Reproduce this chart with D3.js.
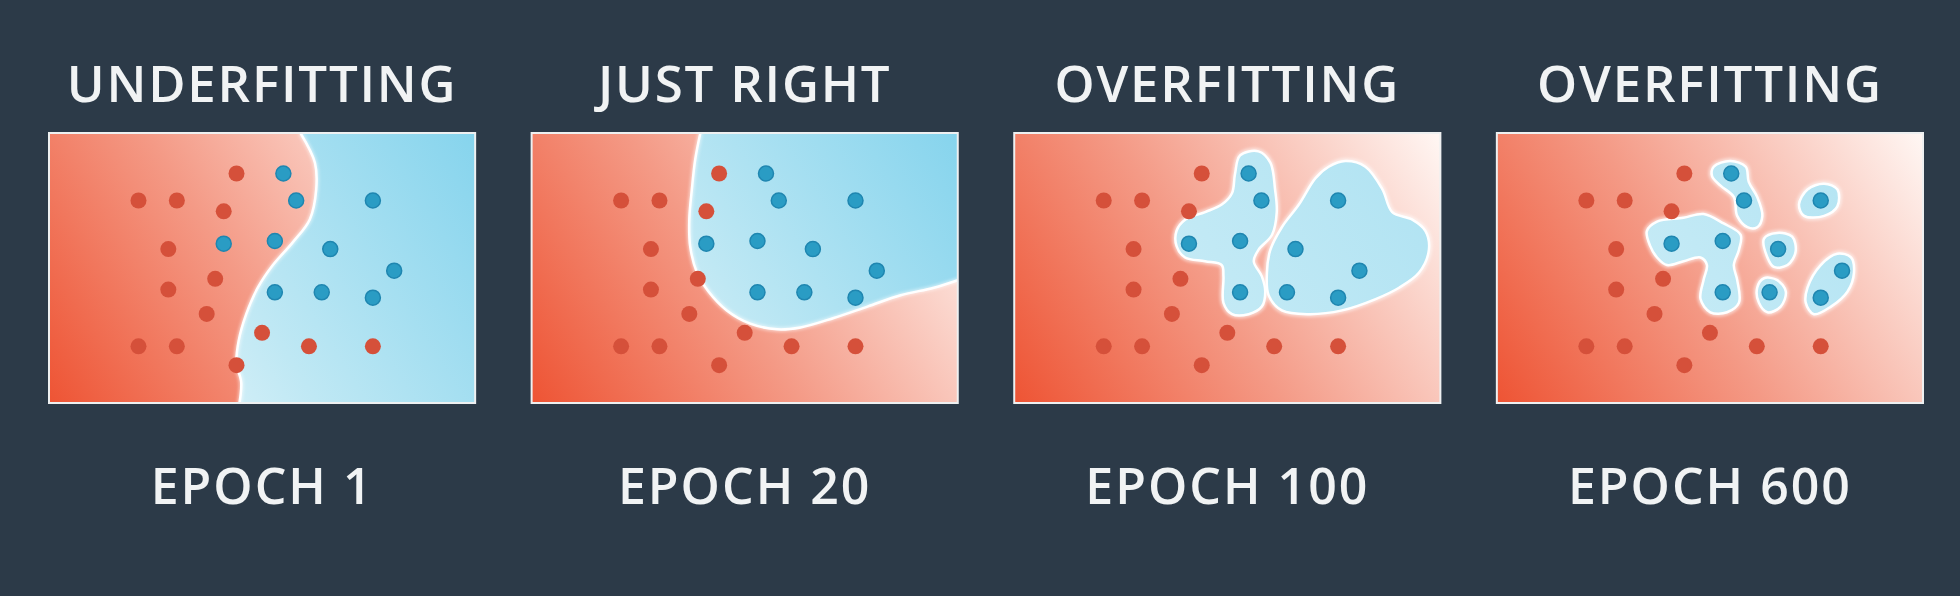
<!DOCTYPE html>
<html>
<head>
<meta charset="utf-8">
<script src="https://cdn.jsdelivr.net/npm/d3@7"></script>
<style>
  html, body { margin: 0; background: #2c3a48; }
  svg { display: block; }
</style>
</head>
<body>
<svg id="chart" width="1960" height="596"></svg>
<script>
// the four stages
const titles = ["UNDERFITTING", "JUST RIGHT", "OVERFITTING", "OVERFITTING"];
const epochs = ["EPOCH 1", "EPOCH 20", "EPOCH 100", "EPOCH 600"];

// training points, same in every panel (x, y in 0..100)
const redPoints = [
  [44, 85], [21, 75], [30, 75], [41, 71], [28, 57], [39, 46], [28, 42],
  [37, 33], [50, 26], [21, 21], [30, 21], [61, 21], [76, 21], [44, 14]
];
const bluePoints = [
  [55, 85], [58, 75], [76, 75], [41, 59], [53, 60], [66, 57],
  [81, 49], [53, 41], [64, 41], [76, 39]
];

// epoch 1: decision boundary, blue class on the right
const boundaryEpoch1 = [
  [59, 100], [62.4, 89], [62.7, 79], [61.2, 68], [57.2, 59.5], [52.5, 51],
  [49, 42.7], [46.3, 33], [44.5, 23], [44, 14.7], [45.1, 7.7], [44.7, 0]
];
// epoch 20: blue class top right
const boundaryEpoch20 = [
  [39.6, 100], [38.4, 90.3], [37.6, 79.1], [37, 68], [37.2, 58.1], [38.8, 48.3],
  [41.5, 41.3], [45.8, 34.3], [51.3, 29.4], [57.6, 27.3], [63.1, 28], [70.9, 31.5],
  [78.8, 35.7], [86.6, 39.9], [94.4, 42.7], [100, 45.5]
];
// epoch 100: two blue islands
const blobsEpoch100 = [
  [[53, 91.7], [57.3, 93.2], [60.1, 89], [61.2, 79.1], [61.6, 70.7], [60.5, 62.3],
   [57.3, 56.7], [56.2, 52.5], [58.1, 46.9], [58.9, 41.3], [58.1, 35.7], [55, 32.9],
   [51.1, 32.9], [49.1, 37.1], [49.1, 46.9], [48.7, 51.1], [44.8, 52.5], [40.1, 53.9],
   [38.1, 58.1], [38.1, 63.8], [40.1, 67.9], [44.8, 70.7], [48.7, 73.5], [51.1, 77.7],
   [51.8, 84.7]],
  [[77.7, 89.6], [82.4, 87.5], [86.4, 79.1], [88.7, 70.7], [93.4, 67.9], [96.5, 63.7],
   [97.3, 56.7], [95, 48.3], [90.3, 42.7], [84.8, 38.5], [76.9, 34.3], [69.1, 32.9],
   [62.8, 34.3], [59.7, 39.9], [59.3, 48.3], [60.1, 56.7], [62.8, 65.1], [66.8, 73.5],
   [70.7, 83.3], [73.8, 87.5]]
];
// epoch 600: many small islands
const blobsEpoch600 = [
  [[50.9, 87.5], [54.8, 89.6], [58.4, 87.5], [59.1, 81.9], [61.1, 76.3], [62.3, 69.3],
   [61.1, 65.1], [58.8, 65.1], [56.4, 69.3], [55.6, 76.3], [52.5, 80.5], [50.5, 84]],
  [[70.9, 73.5], [72.9, 79.1], [76.8, 81.2], [79.9, 79.1], [79.9, 72.8], [76.8, 69.3],
   [72.1, 69.3]],
  [[35.2, 63.7], [37.6, 67.2], [43.8, 68.6], [48.5, 70], [53.2, 66.5], [57.2, 62.3],
   [56.8, 56.7], [55.6, 51.1], [56.4, 45.5], [56.8, 37.1], [54, 33.6], [50.1, 33.6],
   [47.8, 38.5], [48.5, 45.5], [49.3, 51.1], [47.8, 53.9], [43.8, 52.5], [39.9, 51.1],
   [37.6, 53.9], [36, 58.1]],
  [[62.7, 60.9], [65.8, 63], [69.3, 61.6], [70.1, 56], [68.2, 51.1], [65, 50.4],
   [63.5, 53.9]],
  [[61.1, 42.7], [62.7, 46.2], [65.8, 45.5], [67.8, 41.3], [66.6, 35.7], [63.5, 33.6],
   [61.5, 37.1]],
  [[72.9, 42.7], [76, 51.1], [79.9, 55.3], [83.1, 53.9], [83.8, 48.3], [82.3, 41.3],
   [78.4, 35.7], [74.4, 32.9], [72.5, 37.1]]
];

const svg = d3.select("#chart");
const plotTop = 133, plotH = 270;

const panel = d3.scaleBand()
  .domain(d3.range(4))
  .range([49, 1923])
  .paddingInner(0.117)
  .paddingOuter(0);

const w = panel.bandwidth();
const x = d3.scaleLinear().domain([0, 100]).range([0, w]);
const y = d3.scaleLinear().domain([0, 100]).range([plotH, 0]);

const defs = svg.append("defs");

function grad(id, stops) {
  const g = defs.append("linearGradient")
    .attr("id", id)
    .attr("gradientUnits", "userSpaceOnUse")
    .attr("x1", 0).attr("y1", plotH)
    .attr("x2", w).attr("y2", 0);
  stops.forEach(s => g.append("stop").attr("offset", s[0]).attr("stop-color", s[1]));
}
grad("redGrad", [[0, "#ee5434"], [0.45, "#f49a86"], [1, "#fff7f4"]]);
grad("blueGrad", [[0, "#f4fbfd"], [0.45, "#bfe8f4"], [1, "#86d4ed"]]);
grad("blobGrad", [[0, "#d4f0f8"], [1, "#aee2f2"]]);

defs.append("clipPath").attr("id", "plotClip")
  .append("rect").attr("width", w).attr("height", plotH);

const glow = defs.append("filter").attr("id", "glow")
  .attr("x", "-20%").attr("y", "-20%").attr("width", "140%").attr("height", "140%");
glow.append("feGaussianBlur").attr("stdDeviation", 1.6);

const openLine = d3.line().x(d => x(d[0])).y(d => y(d[1])).curve(d3.curveCatmullRom.alpha(0.5));
const closedLine = d3.line().x(d => x(d[0])).y(d => y(d[1])).curve(d3.curveCatmullRomClosed.alpha(0.5));

titles.forEach((t, i) => {
  const g = svg.append("g").attr("transform", `translate(${panel(i)},${plotTop})`);
  const cx = panel(i) + w / 2;

  svg.append("text")
    .attr("x", cx).attr("y", 102)
    .attr("text-anchor", "middle")
    .attr("font-family", "'Open Sans', sans-serif")
    .attr("font-weight", 600)
    .attr("font-size", 51)
    .attr("letter-spacing", 1.8)
    .attr("fill", "#f1f3f4")
    .text(t);

  svg.append("text")
    .attr("x", cx).attr("y", 504)
    .attr("text-anchor", "middle")
    .attr("font-family", "'Open Sans', sans-serif")
    .attr("font-weight", 600)
    .attr("font-size", 50)
    .attr("letter-spacing", 2)
    .attr("fill", "#f1f3f4")
    .text(epochs[i]);

  const area = g.append("g").attr("clip-path", "url(#plotClip)");
  area.append("rect").attr("width", w).attr("height", plotH).attr("fill", "url(#redGrad)");

  if (i === 0 || i === 1) {
    const b = i === 0 ? boundaryEpoch1 : boundaryEpoch20;
    const tail = i === 0
      ? `L${x(100)},${y(0)}L${x(100)},${y(100)}Z`
      : `L${x(100)},${y(100)}Z`;
    area.append("path").attr("d", openLine(b) + tail).attr("fill", "url(#blueGrad)");
    area.append("path").attr("d", openLine(b))
      .attr("fill", "none").attr("stroke", "#fff").attr("stroke-width", 5)
      .attr("stroke-opacity", 0.5).attr("filter", "url(#glow)");
    area.append("path").attr("d", openLine(b))
      .attr("fill", "none").attr("stroke", "#fff").attr("stroke-width", 2.5);
  } else {
    const blobs = i === 2 ? blobsEpoch100 : blobsEpoch600;
    area.selectAll("path.glow").data(blobs).join("path")
      .attr("class", "glow")
      .attr("d", closedLine)
      .attr("fill", "none").attr("stroke", "#fff").attr("stroke-width", 6)
      .attr("stroke-opacity", 0.55).attr("filter", "url(#glow)");
    area.selectAll("path.blob").data(blobs).join("path")
      .attr("class", "blob")
      .attr("d", closedLine)
      .attr("fill", "url(#blobGrad)")
      .attr("stroke", "#fff").attr("stroke-width", 2.5);
  }

  area.selectAll("circle.red").data(redPoints).join("circle")
    .attr("class", "red")
    .attr("cx", d => x(d[0])).attr("cy", d => y(d[1]))
    .attr("r", 8).attr("fill", "#d5503a");

  area.selectAll("circle.blue").data(bluePoints).join("circle")
    .attr("class", "blue")
    .attr("cx", d => x(d[0])).attr("cy", d => y(d[1]))
    .attr("r", 7.5).attr("fill", "#2a9cc4")
    .attr("stroke", "#1f86b0").attr("stroke-width", 1.5);

  g.append("rect")
    .attr("width", w).attr("height", plotH)
    .attr("fill", "none").attr("stroke", "#eef0f1").attr("stroke-width", 2);
});
</script>
</body>
</html>
